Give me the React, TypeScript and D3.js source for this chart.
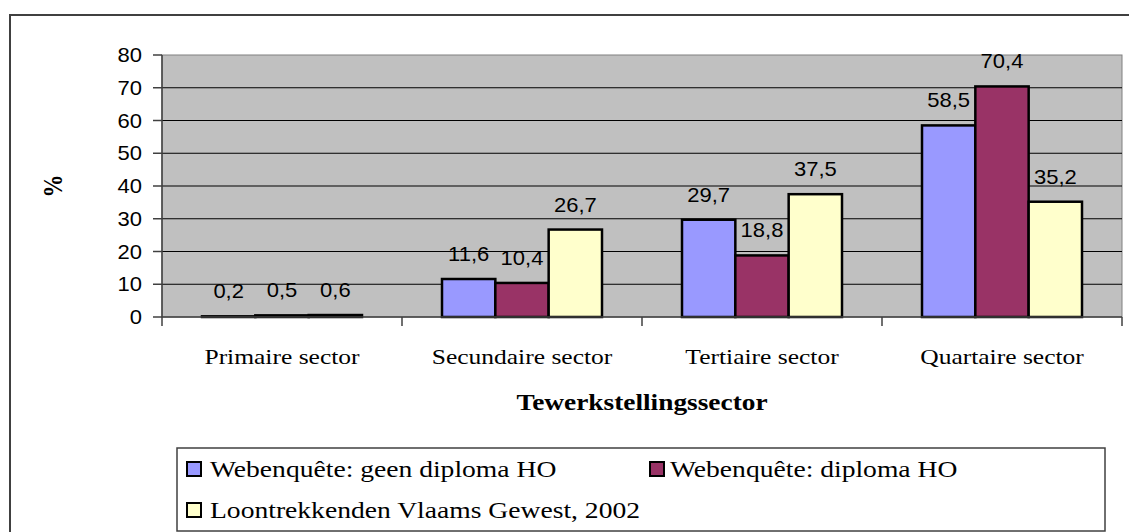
import React from "react";
import * as d3 from "d3";

const categories = ["Primaire sector", "Secundaire sector", "Tertiaire sector", "Quartaire sector"];
const seriesNames = [
  "Webenquête: geen diploma HO",
  "Webenquête: diploma HO",
  "Loontrekkenden Vlaams Gewest, 2002",
];
const geenDiploma = [0.2, 11.6, 29.7, 58.5];
const metDiploma = [0.5, 10.4, 18.8, 70.4];
const loontrekkenden = [0.6, 26.7, 37.5, 35.2];
const seriesColors = ["#9999FF", "#993366", "#FFFFCC"];
const yTicks = [0, 10, 20, 30, 40, 50, 60, 70, 80];

const SANS = "'Liberation Sans', Arial, sans-serif";
const SERIF = "'Liberation Serif', 'Times New Roman', serif";

export default function App() {
  const W = 1129;
  const H = 532;
  const plot = { left: 162, right: 1122, top: 55, bottom: 317 };
  const seriesData = [geenDiploma, metDiploma, loontrekkenden];

  const x = d3.scaleBand<string>().domain(categories).range([plot.left, plot.right]).paddingInner(0).paddingOuter(0);
  const xs = d3
    .scaleBand<number>()
    .domain([0, 1, 2])
    .range([0, x.bandwidth()])
    .paddingInner(0)
    .paddingOuter(0.75);
  const y = d3.scaleLinear().domain([0, 80]).range([plot.bottom, plot.top]);

  const fmt = (v: number) => v.toFixed(1).replace(".", ",");
  const SN = 1.1; // horizontal stretch for sans text
  const SS = 1.16; // horizontal stretch for serif text

  const legendItems = [
    { i: 0, mx: 187, tx: 210, row: 0 },
    { i: 1, mx: 650, tx: 670, row: 0 },
    { i: 2, mx: 187, tx: 210, row: 1 },
  ];
  const rowBase = [477, 518];

  const boundaries = [...categories.map((c) => x(c) as number), plot.right];

  return (
    <svg
      width={W}
      height={H}
      style={{ position: "absolute", left: 0, top: 0, background: "#fff" }}
    >
      {/* outer frame */}
      <rect x={10} y={15} width={1300} height={700} fill="#fff" stroke="#404040" strokeWidth={2} />

      {/* plot area */}
      <rect
        x={plot.left}
        y={plot.top}
        width={plot.right - plot.left}
        height={plot.bottom - plot.top}
        fill="#C0C0C0"
        stroke="#808080"
        strokeWidth={1}
      />
      {yTicks
        .filter((t) => t > 0 && t < 80)
        .map((t) => (
          <line key={"g" + t} x1={plot.left} x2={plot.right} y1={y(t)} y2={y(t)} stroke="#000" strokeWidth={1} />
        ))}

      {/* bars */}
      {categories.map((c, ci) =>
        seriesData.map((s, si) => {
          const bx = (x(c) as number) + (xs(si) as number);
          const by = y(s[ci]);
          return (
            <rect
              key={c + si}
              x={bx}
              y={by}
              width={xs.bandwidth()}
              height={Math.max(y(0) - by, 0.01)}
              fill={seriesColors[si]}
              stroke="#000"
              strokeWidth={2.5}
            />
          );
        })
      )}

      {/* data labels */}
      {categories.map((c, ci) =>
        seriesData.map((s, si) => {
          const cx = (x(c) as number) + (xs(si) as number) + xs.bandwidth() / 2;
          const by = y(s[ci]) - 18;
          return (
            <text
              key={"l" + c + si}
              transform={`translate(${cx},${by}) scale(${SN},1)`}
              textAnchor="middle"
              fontFamily={SANS}
              fontSize={20}
              fill="#000"
            >
              {fmt(s[ci])}
            </text>
          );
        })
      )}

      {/* y axis */}
      <line x1={plot.left} x2={plot.left} y1={plot.top} y2={plot.bottom} stroke="#404040" strokeWidth={1.5} />
      {yTicks.map((t) => (
        <g key={"yt" + t}>
          <line x1={153} x2={plot.left} y1={y(t)} y2={y(t)} stroke="#404040" strokeWidth={1.5} />
          <text
            transform={`translate(142,${y(t) + 7}) scale(${SN},1)`}
            textAnchor="end"
            fontFamily={SANS}
            fontSize={20}
            fill="#000"
          >
            {t}
          </text>
        </g>
      ))}

      {/* x axis */}
      <line x1={plot.left} x2={plot.right} y1={plot.bottom} y2={plot.bottom} stroke="#404040" strokeWidth={1.5} />
      {boundaries.map((bx, i) => (
        <line key={"xt" + i} x1={bx} x2={bx} y1={plot.bottom} y2={plot.bottom + 9} stroke="#404040" strokeWidth={1.5} />
      ))}
      {categories.map((c) => (
        <text
          key={"xl" + c}
          transform={`translate(${(x(c) as number) + x.bandwidth() / 2},364) scale(${SS},1)`}
          textAnchor="middle"
          fontFamily={SERIF}
          fontSize={22}
          fill="#000"
        >
          {c}
        </text>
      ))}

      {/* axis titles */}
      <text
        transform={`translate(${(plot.left + plot.right) / 2},410) scale(1.14,1)`}
        textAnchor="middle"
        fontFamily={SERIF}
        fontWeight="bold"
        fontSize={24}
        fill="#000"
      >
        Tewerkstellingssector
      </text>
      <text
        transform={`translate(62,186) rotate(-90) scale(1,${SS})`}
        textAnchor="middle"
        fontFamily={SERIF}
        fontWeight="bold"
        fontSize={23}
        fill="#000"
      >
        %
      </text>

      {/* legend */}
      <rect x={177} y={448} width={928} height={83} fill="#fff" stroke="#404040" strokeWidth={1.5} />
      {legendItems.map((it) => (
        <g key={"lg" + it.i}>
          <rect
            x={it.mx}
            y={rowBase[it.row] - 15}
            width={14}
            height={14}
            fill={seriesColors[it.i]}
            stroke="#000"
            strokeWidth={2}
          />
          <text
            transform={`translate(${it.tx},${rowBase[it.row]}) scale(1.2,1)`}
            fontFamily={SERIF}
            fontSize={23}
            fill="#000"
          >
            {seriesNames[it.i]}
          </text>
        </g>
      ))}
    </svg>
  );
}
